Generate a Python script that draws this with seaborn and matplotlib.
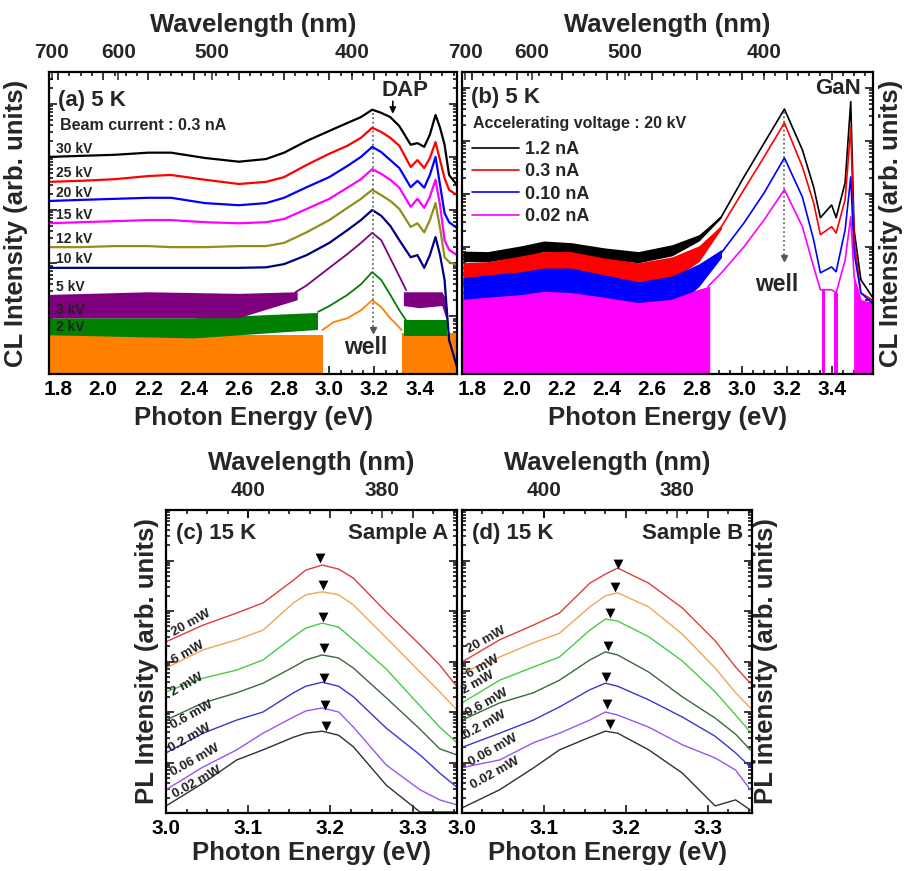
import numpy as np
import seaborn as sns
import matplotlib
matplotlib.use("Agg")
import matplotlib.pyplot as plt
from matplotlib.ticker import (MultipleLocator, LogLocator, NullFormatter,
                               NullLocator, FormatStrFormatter)

# all intensities are log10 values (arb. units)

# ---------- (a) CL, beam current 0.3 nA, different voltages ----------
VOLTAGES = ["30 kV", "25 kV", "20 kV", "15 kV", "12 kV", "10 kV", "5 kV", "3 kV", "2 kV"]
A_E = [1.76, 1.9, 2.05, 2.2, 2.3, 2.45, 2.6, 2.72, 2.8, 2.9, 3.0, 3.08, 3.14, 3.19,
       3.23, 3.27, 3.31, 3.36, 3.39, 3.42, 3.445, 3.47, 3.49, 3.51, 3.53, 3.565]
A_30 = [3.00, 3.02, 3.04, 3.08, 3.08, 2.98, 2.91, 2.96, 3.08, 3.30, 3.49, 3.64, 3.75,
        3.89, 3.83, 3.75, 3.58, 3.23, 3.26, 3.19, 3.42, 3.79, 3.55, 3.23, 2.66, 2.47]
A_25 = [2.53, 2.55, 2.58, 2.64, 2.66, 2.57, 2.49, 2.53, 2.62, 2.85, 3.06, 3.21, 3.36,
        3.55, 3.47, 3.36, 3.21, 2.81, 2.94, 2.79, 2.98, 3.28, 2.94, 2.60, 2.38, 2.28]
A_20 = [2.17, 2.19, 2.21, 2.23, 2.23, 2.13, 2.09, 2.13, 2.23, 2.43, 2.62, 2.83, 3.00,
        3.19, 3.09, 2.94, 2.79, 2.43, 2.55, 2.42, 2.66, 3.00, 2.47, 1.94, 1.77, 1.66]
A_15 = [1.75, 1.77, 1.79, 1.81, 1.81, 1.77, 1.75, 1.77, 1.83, 2.02, 2.21, 2.42, 2.58,
        2.77, 2.68, 2.57, 2.42, 2.06, 2.21, 2.04, 2.25, 2.57, 2.09, 1.43, 1.25, 1.15]
A_12 = [1.30, 1.30, 1.32, 1.32, 1.30, 1.30, 1.32, 1.32, 1.38, 1.58, 1.81, 2.04, 2.21,
        2.38, 2.28, 2.17, 2.02, 1.68, 1.75, 1.58, 1.81, 2.13, 1.66, 1.11, 1.02, 0.96]
A_10 = [0.91, 0.91, 0.91, 0.91, 0.91, 0.91, 0.91, 0.92, 0.98, 1.15, 1.38, 1.62, 1.81,
        2.00, 1.89, 1.70, 1.43, 1.11, 1.15, 0.91, 1.15, 1.49, 1.15, 0.68, -0.45, -0.96]
A5_E = [2.85, 2.9, 3.0, 3.08, 3.14, 3.19, 3.23, 3.27, 3.31, 3.34]
A_5 = [0.45, 0.58, 0.91, 1.17, 1.38, 1.57, 1.43, 1.09, 0.75, 0.49]
A5_BAND_E = [1.76, 2.2, 2.6, 2.86, np.nan, 3.33, 3.4, 3.5, 3.52]
A5_TOP = [0.40, 0.45, 0.42, 0.45, np.nan, 0.45, 0.45, 0.45, 0.30]
A5_BOT = [-0.04, -0.04, -0.04, 0.30, np.nan, 0.19, 0.15, 0.19, -0.08]
A3_E = [2.95, 3.0, 3.08, 3.14, 3.19, 3.23, 3.27, 3.31, 3.34]
A_3 = [0.08, 0.19, 0.40, 0.60, 0.83, 0.68, 0.40, 0.11, -0.08]
A3_BAND_E = [1.76, 2.4, 2.95, np.nan, 3.33, 3.52]
A3_TOP = [-0.04, -0.04, 0.06, np.nan, -0.08, -0.08]
A3_BOT = [-0.36, -0.42, -0.26, np.nan, -0.38, -0.38]
A2_E = [2.97, 3.02, 3.08, 3.14, 3.19, 3.23, 3.27, 3.30, 3.32]
A_2 = [-0.26, -0.11, -0.04, 0.11, 0.30, 0.17, -0.04, -0.17, -0.26]
A2_FILL_E = [1.76, 2.97, np.nan, 3.32, 3.565]
A2_FILL_TOP = [-0.36, -0.36, np.nan, -0.32, -0.32]

# ---------- (b) CL, 20 kV, different beam currents ----------
CURRENTS = ["1.2 nA", "0.3 nA", "0.10 nA", "0.02 nA"]
B_E = [1.76, 1.87, 2.02, 2.12, 2.24, 2.39, 2.54, 2.69, 2.81, 2.91, 3.01, 3.10, 3.19,
       3.27, 3.32, 3.35, 3.40, 3.42, 3.46, 3.485, 3.50, 3.53, 3.58]
B_12 = [1.83, 1.81, 1.91, 2.02, 1.98, 1.89, 1.81, 1.94, 2.17, 2.57, 3.32, 3.96, 4.60,
        3.83, 3.13, 2.55, 2.79, 2.55, 3.21, 4.74, 2.32, 1.38, 1.06]
B_03 = [1.51, 1.53, 1.64, 1.70, 1.70, 1.60, 1.51, 1.62, 1.89, 2.38, 3.08, 3.70, 4.34,
        3.51, 2.83, 2.23, 2.38, 2.26, 2.89, 4.26, 2.13, 1.13, 1.00]
B_010 = [1.13, 1.17, 1.23, 1.30, 1.30, 1.23, 1.11, 1.23, 1.51, 1.89, 2.45, 3.02, 3.68,
         2.94, 2.13, 1.51, 1.62, 1.53, 2.32, 3.32, 1.89, 1.13, 0.94]
B_NOISE_E = [1.76, 1.87, 2.02, 2.12, 2.24, 2.39, 2.54, 2.69, 2.81, 2.91]
B_12_TOP = [1.92, 1.91, 2.02, 2.11, 2.08, 1.98, 1.91, 2.04, 2.23, 2.59]
B_12_BOT = [1.72, 1.72, 1.81, 1.91, 1.87, 1.77, 1.70, 1.83, 2.11, 2.55]
B_03_TOP = [1.70, 1.72, 1.83, 1.91, 1.91, 1.79, 1.70, 1.81, 2.02, 2.41]
B_03_BOT = [1.25, 1.28, 1.38, 1.45, 1.45, 1.36, 1.26, 1.38, 1.72, 2.34]
B_010_TOP = [1.42, 1.47, 1.53, 1.60, 1.60, 1.47, 1.34, 1.45, 1.68, 1.95]
B_010_BOT = [0.66, 0.72, 0.77, 0.85, 0.85, 0.77, 0.66, 0.81, 1.25, 1.80]
B002_E = [2.85, 2.91, 3.01, 3.10, 3.19, 3.27, 3.32, 3.35, 3.40, 3.42, 3.46, 3.485, 3.50, 3.53]
B_002 = [1.25, 1.51, 2.00, 2.51, 3.08, 2.38, 1.62, 1.19, 1.19, 1.13, 1.75, 2.57, 1.43, 1.00]
B002_FILL_E = [1.76, 1.87, 2.02, 2.12, 2.24, 2.39, 2.54, 2.69, 2.81, 2.86, np.nan,
               3.355, 3.37, np.nan, 3.41, 3.43, np.nan, 3.50, 3.53, 3.58]
B002_FILL_TOP = [1.00, 1.04, 1.09, 1.15, 1.13, 1.04, 0.94, 1.00, 1.19, 1.25, np.nan,
                 1.19, 1.19, np.nan, 1.13, 1.13, np.nan, 1.43, 1.00, 0.94]

# ---------- (c), (d) PL, 15 K, different powers ----------
POWERS = ["20 mW", "6 mW", "2 mW", "0.6 mW", "0.2 mW", "0.06 mW", "0.02 mW"]
C_E = [3.0, 3.045, 3.086, 3.118, 3.155, 3.17, 3.19, 3.21, 3.228, 3.268, 3.309, 3.333, 3.354]
C_PL = [
    [3.39, 3.72, 3.96, 4.16, 4.61, 4.81, 4.91, 4.83, 4.65, 3.98, 3.33, 2.93, 2.50],
    [2.87, 3.23, 3.43, 3.62, 4.16, 4.32, 4.38, 4.32, 4.12, 3.47, 2.79, 2.40, 2.04],
    [2.40, 2.67, 2.83, 3.03, 3.49, 3.66, 3.76, 3.68, 3.43, 2.85, 2.12, 1.70, 1.39],
    [1.84, 2.18, 2.38, 2.57, 2.89, 3.03, 3.13, 3.07, 2.87, 2.28, 1.66, 1.27, 1.15],
    [1.19, 1.58, 1.84, 2.00, 2.38, 2.51, 2.59, 2.51, 2.30, 1.68, 1.15, 0.79, 0.51],
    [0.46, 0.91, 1.25, 1.58, 1.90, 2.02, 2.08, 2.00, 1.70, 0.95, 0.46, 0.26, 0.16],
    [0.14, 0.59, 1.05, 1.25, 1.50, 1.58, 1.62, 1.54, 1.31, 0.55, 0.02, 0.02, 0.02],
]
C_PEAK_E = [3.187, 3.191, 3.191, 3.192, 3.192, 3.193, 3.195]
C_PEAK = [5.04, 4.51, 3.89, 3.26, 2.67, 2.14, 1.72]
D_E = [3.0, 3.046, 3.087, 3.119, 3.156, 3.175, 3.19, 3.228, 3.269, 3.309, 3.334, 3.352]
D_PL = [
    [2.99, 3.43, 3.72, 3.96, 4.55, 4.73, 4.85, 4.55, 4.06, 3.41, 2.89, 2.57],
    [2.77, 3.09, 3.37, 3.56, 4.08, 4.30, 4.36, 4.08, 3.54, 2.87, 2.38, 2.08],
    [2.18, 2.63, 2.89, 3.09, 3.62, 3.84, 3.80, 3.49, 3.01, 2.40, 1.94, 1.60],
    [1.84, 2.18, 2.38, 2.63, 3.03, 3.19, 3.13, 2.79, 2.30, 1.88, 1.56, 1.25],
    [1.30, 1.58, 1.84, 2.10, 2.44, 2.57, 2.51, 2.24, 1.90, 1.52, 1.19, 0.91],
    [0.90, 1.05, 1.39, 1.58, 1.84, 2.00, 1.94, 1.70, 1.35, 1.09, 0.85, 0.46],
    [0.10, 0.46, 0.89, 1.25, 1.50, 1.62, 1.58, 1.25, 0.79, 0.14, 0.26, 0.06],
]
D_PEAK_E = [3.19, 3.187, 3.181, 3.178, 3.176, 3.177, 3.181]
D_PEAK = [4.94, 4.48, 3.97, 3.31, 2.70, 2.15, 1.76]

WELL_E = 3.193

A_COLORS = ["#000000", "#ff0000", "#0000ff", "#ff00ff", "#8f8f1a", "#00007f",
            "#7f007f", "#008000", "#ff8000"]
B_COLORS = ["#000000", "#ff0000", "#0000ff", "#ff00ff"]
P_COLORS = ["#e03c3c", "#f2a555", "#45cc45", "#3a6a3a", "#3838d0", "#9a55f0", "#303030"]

sns.set_theme(style="ticks")
plt.rcParams["font.family"] = ["Liberation Sans", "DejaVu Sans"]
plt.rcParams["font.weight"] = "bold"
plt.rcParams["axes.labelweight"] = "bold"

LAB = 18.5
TICK = 15


def I(v):
    return 10.0 ** np.asarray(v, dtype=float)


def nm(x):
    x = np.asarray(x, dtype=float)
    with np.errstate(divide="ignore", invalid="ignore"):
        return 1239.84 / x


def style_axes(ax, xlim, ylim, major, minor, wl_ticks, ylabel, right, ylab_x,
               xlab_y, wl_y):
    ax.set_yscale("log")
    ax.set_xlim(*xlim)
    ax.set_ylim(I(ylim[0]), I(ylim[1]))
    ax.xaxis.set_major_locator(MultipleLocator(major))
    ax.xaxis.set_minor_locator(MultipleLocator(minor))
    ax.xaxis.set_major_formatter(FormatStrFormatter("%.1f"))
    ax.yaxis.set_major_locator(LogLocator(base=10, numticks=30))
    ax.yaxis.set_minor_locator(LogLocator(base=10, subs=np.arange(2, 10), numticks=30))
    ax.yaxis.set_major_formatter(NullFormatter())
    ax.yaxis.set_minor_formatter(NullFormatter())
    ax.tick_params(which="both", direction="in", top=True, right=True, width=1.1,
                   colors="black")
    ax.tick_params(which="major", length=6, labelsize=TICK, pad=4)
    ax.tick_params(which="minor", length=3)
    for s in ax.spines.values():
        s.set_linewidth(1.6)
        s.set_color("black")
    ax.set_xlabel("Photon Energy (eV)", fontsize=LAB, fontweight="bold")
    ax.xaxis.set_label_coords(0.5, xlab_y)
    ax.xaxis.label.set_va("center")
    ax.set_ylabel(ylabel, fontsize=LAB, fontweight="bold")
    if right:
        ax.yaxis.set_label_position("right")
    ax.yaxis.set_label_coords(ylab_x, 0.5)
    ax.yaxis.label.set_va("center")
    ax.yaxis.label.set_rotation(90)

    sec = ax.secondary_xaxis("top", functions=(nm, nm))
    sec.set_xticks(wl_ticks)
    sec.xaxis.set_major_formatter(FormatStrFormatter("%d"))
    sec.xaxis.set_minor_locator(NullLocator())
    sec.tick_params(direction="in", length=6, width=1.1, labelsize=TICK, pad=7)
    ax.text(0.5, wl_y, "Wavelength (nm)", transform=ax.transAxes, ha="center",
            va="center", fontsize=LAB, fontweight="bold")
    return sec


def line(ax, x, v, color, lw, label=None):
    sns.lineplot(x=x, y=I(v), ax=ax, color=color, lw=lw, estimator=None,
                 sort=False, legend=False, label=label)


W, H = 906, 871
fig = plt.figure(figsize=(W / 100, H / 100), dpi=100)

# ---------------- (a) ----------------
ax = fig.add_axes([49 / W, 1 - 374 / H, 408 / W, 302 / H])
A_YLIM = (-1.09, 4.60)
lo = I(A_YLIM[0])
ax.fill_between(A2_FILL_E, I(A2_FILL_TOP), lo, color=A_COLORS[8], lw=0)
line(ax, A2_E, A_2, A_COLORS[8], 1.3)
ax.fill_between(A3_BAND_E, I(A3_TOP), I(A3_BOT), color=A_COLORS[7], lw=0)
line(ax, A3_E, A_3, A_COLORS[7], 1.3)
ax.fill_between(A5_BAND_E, I(A5_TOP), I(A5_BOT), color=A_COLORS[6], lw=0)
line(ax, A5_E, A_5, A_COLORS[6], 1.3)
a_curves = [A_30, A_25, A_20, A_15, A_12, A_10]
for v, c in list(zip(a_curves, A_COLORS[:6]))[::-1]:
    line(ax, A_E, v, c, 1.6)
style_axes(ax, (1.76, 3.565), A_YLIM, 0.2, 0.05, [700, 600, 500, 400],
           "CL Intensity (arb. units)", False, -0.081, -0.146, 1.156)
anchors = [v[0] for v in a_curves] + [A5_TOP[0], A3_TOP[0], A2_FILL_TOP[0]]
for lab, y in zip(VOLTAGES, anchors):
    ax.annotate(lab, (1.793, I(y)), xytext=(0, 1), textcoords="offset points",
                ha="left", va="bottom", fontsize=10, fontweight="bold", color="#222222")
ax.text(0.022, 0.907, "(a) 5 K", transform=ax.transAxes, fontsize=16,
        fontweight="bold", va="center")
ax.text(0.027, 0.824, "Beam current : 0.3 nA", transform=ax.transAxes,
        fontsize=11.5, fontweight="bold", va="center")
ax.text(3.335, I(4.26), "DAP", ha="center", va="center", fontsize=16, fontweight="bold")
ax.annotate("", xy=(3.281, I(3.76)), xytext=(3.281, I(4.10)),
            arrowprops=dict(arrowstyle="-|>", color="black", lw=1.2, mutation_scale=9))
ax.plot([WELL_E, WELL_E], [I(3.83), I(-0.22)], ls=":", color="#555555", lw=1.2)
ax.plot([WELL_E], [I(-0.26)], marker="v", ms=4, color="#555555")
ax.text(3.163, I(-0.60), "well", ha="center", va="center", fontsize=16.5,
        fontweight="bold")

# ---------------- (b) ----------------
ax = fig.add_axes([462 / W, 1 - 374 / H, 411 / W, 302 / H])
B_YLIM = (-0.40, 5.30)
lo = I(B_YLIM[0])
bands = [(B_12_TOP, B_12_BOT), (B_03_TOP, B_03_BOT), (B_010_TOP, B_010_BOT)]
for (top, bot), v, c, lab in zip(bands, [B_12, B_03, B_010], B_COLORS, CURRENTS):
    ax.fill_between(B_NOISE_E, I(top), I(bot), color=c, lw=0)
    line(ax, B_E, v, c, 1.2, label=lab)
ax.fill_between(B002_FILL_E, I(B002_FILL_TOP), lo, color=B_COLORS[3], lw=0)
line(ax, B002_E, B_002, B_COLORS[3], 1.2, label=CURRENTS[3])
style_axes(ax, (1.756, 3.584), B_YLIM, 0.2, 0.05, [700, 600, 500, 400],
           "CL Intensity (arb. units)", True, 1.045, -0.146, 1.156)
ax.legend(loc="upper left", bbox_to_anchor=(0.025, 0.772), frameon=False,
          prop={"weight": "bold", "size": 13}, handlelength=2.6, handletextpad=0.3,
          labelspacing=0.3, borderaxespad=0, borderpad=0)
ax.text(0.022, 0.917, "(b) 5 K", transform=ax.transAxes, fontsize=16,
        fontweight="bold", va="center")
ax.text(0.027, 0.831, "Accelerating voltage : 20 kV", transform=ax.transAxes,
        fontsize=11.5, fontweight="bold", va="center")
ax.text(3.427, I(4.98), "GaN", ha="center", va="center", fontsize=16, fontweight="bold")
ax.plot([WELL_E - 0.003, WELL_E - 0.003], [I(4.55), I(1.83)], ls=":", color="#555555", lw=1.2)
ax.plot([WELL_E - 0.003], [I(1.79)], marker="v", ms=4, color="#555555")
ax.text(3.156, I(1.28), "well", ha="center", va="center", fontsize=16.5,
        fontweight="bold")

# ---------------- (c), (d) ----------------
C_LABEL_XY = [(0.088, 0.627), (0.077, 0.528), (0.071, 0.422), (0.088, 0.323),
              (0.082, 0.248), (0.100, 0.175), (0.106, 0.102)]
D_LABEL_XY = [(0.085, 0.571), (0.073, 0.483), (0.056, 0.428), (0.085, 0.362),
              (0.079, 0.290), (0.108, 0.208), (0.114, 0.131)]
panels = [
    (166, 291, C_E, C_PL, C_PEAK_E, C_PEAK, "(c) 15 K", "Sample A",
     "PL Intensity (arb. units)", False, -0.066, C_LABEL_XY),
    (462, 290, D_E, D_PL, D_PEAK_E, D_PEAK, "(d) 15 K", "Sample B",
     "PL intensity (arb. units)", True, 1.05, D_LABEL_XY),
]
for left, width, E, curves, pk_e, pk, tag, sample, ylab, right, ylx, lxy in panels:
    ax = fig.add_axes([left / W, 1 - 813 / H, width / W, 303 / H])
    for v, c in list(zip(curves, P_COLORS))[::-1]:
        line(ax, E, v, c, 1.0)
    sns.scatterplot(x=pk_e, y=I(pk), ax=ax, marker="v", s=50, color="black",
                    edgecolor="black", linewidth=0, legend=False, zorder=5)
    style_axes(ax, (3.0, 3.354), (0.0, 6.0), 0.1, 0.025, [400, 380], ylab, right,
               ylx, -0.132, 1.155)
    for lab, (lx, ly) in zip(POWERS, lxy):
        ax.text(lx, ly, lab, transform=ax.transAxes, ha="center", va="center",
                rotation=29, fontsize=9.5, fontweight="bold", color="#222222")
    ax.text(0.035, 0.924, tag, transform=ax.transAxes, fontsize=16,
            fontweight="bold", va="center")
    ax.text(0.97, 0.924, sample, transform=ax.transAxes, fontsize=16,
            fontweight="bold", va="center", ha="right")

fig.savefig("out.png", dpi=100)
